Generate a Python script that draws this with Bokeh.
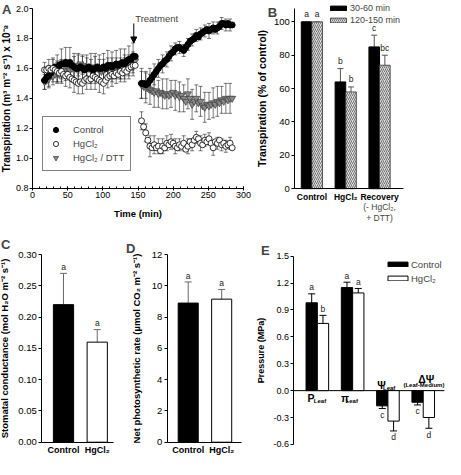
from bokeh.plotting import figure
from bokeh.layouts import column, row
from bokeh.models import (ColumnDataSource, Whisker, TeeHead, Legend, LegendItem,
                          Label, Arrow, NormalHead, FixedTicker, PrintfTickFormatter,
                          SingleIntervalTicker, Range1d)
from bokeh.core.properties import value
from bokeh.embed import file_html
from bokeh.resources import INLINE

FONT = "Liberation Sans"

# ---------------- Panel A data ----------------
time_pre = [17, 20, 23, 26, 29, 32, 35, 38, 41, 44, 47, 50, 53, 56, 59, 62, 65, 68, 71, 74, 77, 80,
            83, 86, 89, 92, 95, 98, 101, 104, 107, 110, 113, 116, 119, 122, 125, 128, 131, 134,
            137, 140, 143, 146]
ctrl_pre = [1.52, 1.54, 1.55, 1.57, 1.59, 1.61, 1.60, 1.62, 1.63, 1.63, 1.64, 1.63, 1.64, 1.62,
            1.61, 1.60, 1.60, 1.61, 1.60, 1.59, 1.60, 1.61, 1.60, 1.59, 1.60, 1.61, 1.60, 1.60,
            1.61, 1.60, 1.62, 1.62, 1.61, 1.62, 1.63, 1.62, 1.63, 1.64, 1.63, 1.65, 1.66, 1.66,
            1.68, 1.68]
ctrl_pre_err = [0.06, 0.07, 0.07, 0.08, 0.08, 0.09, 0.09, 0.10, 0.10, 0.09, 0.10, 0.09, 0.10, 0.10,
                0.09, 0.09, 0.10, 0.10, 0.09, 0.10, 0.09, 0.10, 0.10, 0.09, 0.10, 0.10, 0.09, 0.10,
                0.09, 0.10, 0.10, 0.09, 0.10, 0.10, 0.09, 0.10, 0.10, 0.09, 0.10, 0.10, 0.09, 0.10,
                0.09, 0.08]
hg_pre = [1.59, 1.59, 1.60, 1.59, 1.60, 1.59, 1.58, 1.57, 1.58, 1.56, 1.55, 1.56, 1.54, 1.53,
          1.52, 1.51, 1.50, 1.51, 1.50, 1.52, 1.53, 1.52, 1.53, 1.55, 1.54, 1.53, 1.52, 1.51,
          1.50, 1.52, 1.54, 1.55, 1.56, 1.55, 1.57, 1.56, 1.58, 1.57, 1.59, 1.58, 1.60, 1.61,
          1.62, 1.62]
hg_pre_err = [0.05, 0.05, 0.06, 0.06, 0.06, 0.07, 0.07, 0.07, 0.08, 0.07, 0.07, 0.08, 0.07, 0.08,
              0.08, 0.07, 0.07, 0.08, 0.07, 0.08, 0.07, 0.08, 0.07, 0.07, 0.08, 0.07, 0.08, 0.07,
              0.07, 0.08, 0.07, 0.07, 0.08, 0.07, 0.07, 0.08, 0.07, 0.07, 0.08, 0.07, 0.07, 0.08,
              0.07, 0.07]
dtt_pre = [1.51, 1.52, 1.53, 1.55, 1.55, 1.56, 1.57, 1.56, 1.58, 1.58, 1.59, 1.60, 1.59, 1.60,
           1.61, 1.60, 1.62, 1.63, 1.62, 1.60, 1.61, 1.60, 1.59, 1.60, 1.61, 1.60, 1.59, 1.58,
           1.59, 1.60, 1.60, 1.61, 1.60, 1.61, 1.60, 1.61, 1.60, 1.61, 1.62, 1.61, 1.62, 1.63,
           1.64, 1.65]
dtt_pre_err = [0.05, 0.05, 0.06, 0.06, 0.06, 0.06, 0.07, 0.06, 0.07, 0.06, 0.07, 0.07, 0.06, 0.07,
               0.07, 0.06, 0.07, 0.07, 0.06, 0.07, 0.06, 0.07, 0.07, 0.06, 0.07, 0.06, 0.07, 0.06,
               0.07, 0.06, 0.07, 0.06, 0.07, 0.06, 0.07, 0.06, 0.07, 0.06, 0.07, 0.06, 0.07, 0.06,
               0.07, 0.06]

time_post = [155, 158, 161, 164, 167, 170, 173, 176, 179, 182, 185, 188, 191, 194, 197, 200, 203,
             206, 209, 212, 215, 218, 221, 224, 227, 230, 233, 236, 239, 242, 245, 248, 251, 254,
             257, 260, 263, 266, 269, 272, 275, 278, 281, 284]
ctrl_post = [1.50, 1.50, 1.49, 1.50, 1.52, 1.54, 1.56, 1.58, 1.60, 1.62, 1.63, 1.65, 1.66, 1.68,
             1.70, 1.71, 1.73, 1.74, 1.74, 1.73, 1.72, 1.74, 1.76, 1.78, 1.79, 1.80, 1.82, 1.81,
             1.83, 1.84, 1.85, 1.86, 1.85, 1.86, 1.87, 1.86, 1.87, 1.88, 1.90, 1.90, 1.89, 1.90,
             1.89, 1.89]
ctrl_post_err = [0.10, 0.10, 0.09, 0.09, 0.08, 0.08, 0.07, 0.07, 0.06, 0.06, 0.06, 0.05, 0.05, 0.05,
                 0.05, 0.05, 0.04, 0.05, 0.04, 0.05, 0.04, 0.05, 0.04, 0.05, 0.04, 0.05, 0.04, 0.05,
                 0.04, 0.05, 0.04, 0.04, 0.05, 0.04, 0.04, 0.05, 0.04, 0.04, 0.04, 0.04, 0.04, 0.04,
                 0.04, 0.03]
hg_post = [1.25, 1.21, 1.17, 1.12, 1.08, 1.07, 1.09, 1.07, 1.08, 1.05, 1.08, 1.07, 1.10, 1.09,
           1.11, 1.10, 1.08, 1.07, 1.09, 1.08, 1.10, 1.06, 1.08, 1.11, 1.09, 1.12, 1.14, 1.13,
           1.10, 1.09, 1.12, 1.11, 1.13, 1.10, 1.07, 1.11, 1.10, 1.12, 1.09, 1.10, 1.08, 1.09,
           1.10, 1.07]
hg_post_err = [0.06, 0.06, 0.06, 0.06, 0.07, 0.06, 0.06, 0.06, 0.05, 0.06, 0.05, 0.05, 0.05, 0.05,
               0.05, 0.05, 0.05, 0.05, 0.04, 0.05, 0.05, 0.04, 0.05, 0.05, 0.04, 0.05, 0.04, 0.04,
               0.05, 0.04, 0.04, 0.05, 0.04, 0.04, 0.05, 0.04, 0.04, 0.04, 0.04, 0.04, 0.04, 0.04,
               0.04, 0.04]
dtt_post = [1.49, 1.48, 1.47, 1.47, 1.46, 1.45, 1.44, 1.45, 1.43, 1.44, 1.43, 1.42, 1.43, 1.42,
            1.43, 1.44, 1.42, 1.43, 1.41, 1.42, 1.40, 1.38, 1.43, 1.40, 1.36, 1.38, 1.40, 1.37,
            1.38, 1.35, 1.34, 1.36, 1.35, 1.36, 1.37, 1.36, 1.38, 1.37, 1.39, 1.38, 1.40, 1.39,
            1.40, 1.40]
dtt_post_err = [0.09, 0.10, 0.10, 0.10, 0.10, 0.09, 0.10, 0.10, 0.09, 0.10, 0.10, 0.09, 0.10, 0.10,
                0.09, 0.10, 0.10, 0.09, 0.10, 0.10, 0.09, 0.10, 0.10, 0.09, 0.10, 0.10, 0.09, 0.10,
                0.10, 0.09, 0.10, 0.10, 0.09, 0.10, 0.10, 0.09, 0.10, 0.10, 0.09, 0.10, 0.10, 0.09,
                0.10, 0.10]
treatment_time = 144

# ---------------- Panel B data ----------------
b_groups = ["Control", "HgCl\u2082", "Recovery"]
b_recovery_note = ["(- HgCl\u2082,", "+ DTT)"]
b_early = [100, 64, 85]
b_early_err = [0, 8, 7]
b_early_sig = ["a", "b", "c"]
b_late = [100, 58, 74]
b_late_err = [0, 3, 6]
b_late_sig = ["a", "b", "bc"]

# ---------------- Panel C / D data ----------------
cd_groups = ["Control", "HgCl\u2082"]
c_vals = [0.22, 0.16]
c_err = [0.05, 0.02]
c_sig = ["a", "a"]
d_vals = [8.9, 9.15]
d_err = [1.35, 0.62]
d_sig = ["a", "a"]

# ---------------- Panel E data ----------------
e_symbols = ["P", "\u03c0", "\u03a8", "\u0394\u03a8"]
e_subs = ["Leaf", "Leaf", "Leaf", "(Leaf-Medium)"]
e_ctrl = [0.98, 1.15, -0.17, -0.13]
e_ctrl_err = [0.10, 0.06, 0.03, 0.03]
e_ctrl_sig = ["a", "a", "c", "c"]
e_hg = [0.75, 1.09, -0.34, -0.30]
e_hg_err = [0.09, 0.05, 0.11, 0.12]
e_hg_sig = ["b", "a", "d", "d"]


def panel(W, H, xwin, ywin, box, tick_size="9.5px", label_size="10.5px"):
    """Figure whose frame fills the canvas; axes are pinned (fixed_location) so the
    axis window xwin/ywin lands on the pixel box (left, right, top, bottom)."""
    (x0, x1), (y0, y1) = xwin, ywin
    L, R, T, B = box
    sx = (R - L) / (x1 - x0)
    sy = (B - T) / (y1 - y0)
    xs, xe = x0 - L / sx, x1 + (W - R) / sx
    ys, ye = y0 - (H - B) / sy, y1 + T / sy
    p = figure(width=W, height=H, x_range=Range1d(xs, xe), y_range=Range1d(ys, ye),
               output_backend="svg", toolbar_location=None, title=None,
               min_border_left=0, min_border_right=0, min_border_top=0, min_border_bottom=0)
    p.outline_line_color = None
    p.grid.visible = False
    p.background_fill_color = "white"
    p.border_fill_color = "white"
    for ax in p.axis:
        ax.axis_line_color = "black"
        ax.axis_line_width = 1
        ax.major_tick_line_color = "black"
        ax.major_tick_in = 0
        ax.major_tick_out = 3
        ax.minor_tick_line_color = None
        ax.major_label_text_font = FONT
        ax.major_label_text_font_size = tick_size
        ax.major_label_text_color = "black"
        ax.major_label_standoff = 2
        ax.axis_label_text_font = FONT
        ax.axis_label_text_font_style = "bold"
        ax.axis_label_text_font_size = label_size
        ax.axis_label_text_color = "black"
        ax.axis_label_standoff = 3
    p.xaxis.fixed_location = y0
    p.xaxis.bounds = (x0, x1)
    p.yaxis.fixed_location = x0
    p.yaxis.bounds = (y0, y1)

    def conv(cx, cy):
        return xs + cx / sx, ye - cy / sy
    return p, conv


def letter(p, conv, text, cx, cy):
    x, y = conv(cx, cy)
    p.add_layout(Label(x=x, y=y, text=text, text_font=FONT, text_font_style="bold",
                       text_font_size="13px", text_baseline="top", text_align="left"))


def bar_xaxis(p, labels, size="9px"):
    ax = p.xaxis[0]
    ax.ticker = FixedTicker(ticks=list(range(1, len(labels) + 1)))
    ax.major_label_overrides = {i + 1: s for i, s in enumerate(labels)}
    ax.major_tick_out = 0
    ax.major_label_text_font_style = "bold"
    ax.major_label_text_font_size = size
    ax.major_label_standoff = 3


# =============== Panel A ===============
pA, cA = panel(256, 225, (0, 300), (0.8, 2.0), (32.1, 242.9, 8.0, 187.7), tick_size="9px")
pA.xaxis.ticker = SingleIntervalTicker(interval=50, num_minor_ticks=5)
pA.xaxis.minor_tick_line_color = "black"
pA.xaxis.minor_tick_in = 2
pA.xaxis.minor_tick_out = 0
pA.xaxis.major_tick_in = 2
pA.xaxis.major_tick_out = 2
pA.xaxis.axis_label_standoff = 6
pA.yaxis.ticker = FixedTicker(ticks=[0.8, 1.0, 1.2, 1.4, 1.6, 1.8, 2.0])
pA.yaxis.formatter = PrintfTickFormatter(format="%.1f")
pA.yaxis.major_label_standoff = 1
pA.xaxis.axis_label = "Time (min)"
pA.xaxis.axis_label_text_font_size = "9.5px"
pA.yaxis.axis_label = "Transpiration (m\u00b3 m\u207b\u00b2 s\u207b\u00b9) x 10\u207b\u2078"
pA.yaxis.axis_label_text_font_size = "10px"
pA.yaxis.axis_label_standoff = 1

series = [
    (time_pre + time_post, ctrl_pre + ctrl_post, ctrl_pre_err + ctrl_post_err),
    (time_pre + time_post, hg_pre + hg_post, hg_pre_err + hg_post_err),
    (time_pre + time_post, dtt_pre + dtt_post, dtt_pre_err + dtt_post_err),
]
for t, v, e in series:
    src = ColumnDataSource(dict(x=t[::2], up=[a + b for a, b in zip(v[::2], e[::2])],
                                lo=[a - b for a, b in zip(v[::2], e[::2])]))
    pA.add_layout(Whisker(source=src, base="x", upper="up", lower="lo", line_color="#222222",
                          line_width=0.6,
                          upper_head=TeeHead(size=4, line_color="#222222", line_width=0.6),
                          lower_head=TeeHead(size=4, line_color="#222222", line_width=0.6)))

r_dtt = pA.scatter(series[2][0], series[2][1], marker="inverted_triangle", size=7,
                   fill_color="#8a8a8a", line_color="#3a3a3a", line_width=0.7)
r_ctrl = pA.scatter(series[0][0], series[0][1], marker="circle", size=6,
                    fill_color="black", line_color="black")
r_hg = pA.scatter(series[1][0], series[1][1], marker="circle", size=6,
                  fill_color="white", line_color="black", line_width=0.8)

legA = Legend(items=[LegendItem(label="Control", renderers=[r_ctrl]),
                     LegendItem(label="HgCl\u2082", renderers=[r_hg]),
                     LegendItem(label="HgCl\u2082 / DTT", renderers=[r_dtt])],
              location=(42, 54), padding=6, spacing=1, margin=0,
              glyph_width=13, glyph_height=13, label_height=12, label_standoff=11,
              label_text_font=FONT, label_text_font_size="9.5px",
              border_line_color="black", border_line_width=1, background_fill_color="white")
pA.add_layout(legA)

pA.add_layout(Arrow(end=NormalHead(size=6, fill_color="black", line_color="black"),
                    x_start=treatment_time, y_start=1.90, x_end=treatment_time, y_end=1.77,
                    line_color="black", line_width=1))
pA.add_layout(Label(x=treatment_time + 2, y=1.935, text="Treatment", text_font=FONT,
                    text_font_size="9.5px", text_baseline="middle"))
letter(pA, cA, "A", 1.5, 1.5)

# =============== Panel B ===============
pB, cB = panel(189, 225, (0.494, 3.72), (0, 108), (38.3, 147.4, 8.0, 188.2))
bar_xaxis(pB, b_groups, "8.5px")
pB.yaxis.ticker = FixedTicker(ticks=[0, 20, 40, 60, 80, 100])
pB.yaxis.axis_label = "Transpiration (% of control)"
pB.yaxis.axis_label_standoff = 3

bw = 0.314
xe = [i + 1 - bw / 2 for i in range(3)]
xl = [i + 1 + bw / 2 for i in range(3)]
rb1 = pB.vbar(x=xe, top=b_early, width=bw, fill_color="black", line_color="black")
rb2 = pB.vbar(x=xl, top=b_late, width=bw, fill_color="#dcdcdc", line_color="#333333",
              line_width=0.8, hatch_pattern="/", hatch_color="#555555", hatch_scale=4,
              hatch_weight=0.8)
for xs_, vs, es in [(xe, b_early, b_early_err), (xl, b_late, b_late_err)]:
    src = ColumnDataSource(dict(x=xs_, up=[a + b for a, b in zip(vs, es)], lo=vs))
    pB.add_layout(Whisker(source=src, base="x", upper="up", lower="lo", line_color="#555555",
                          line_width=1, upper_head=TeeHead(size=6, line_color="#555555",
                                                           line_width=1), lower_head=None))
pB.text(x=xe + xl,
        y=[a + b + 1.5 for a, b in zip(b_early + b_late, b_early_err + b_late_err)],
        text=b_early_sig + b_late_sig, text_font=value(FONT), text_font_size="8.5px",
        text_align="center", text_baseline="bottom", text_color="#222222")
legB = Legend(items=[LegendItem(label="30-60 min", renderers=[rb1]),
                     LegendItem(label="120-150 min", renderers=[rb2])],
              location=(72, 199), padding=0, spacing=0, margin=0,
              glyph_width=20, glyph_height=6, label_height=12, label_standoff=2,
              label_text_font=FONT, label_text_font_size="9px",
              border_line_color=None, background_fill_alpha=0)
pB.add_layout(legB)
for txt, cy in zip(b_recovery_note, [206.5, 217.5]):
    pB.add_layout(Label(x=3, y=cB(0, cy)[1], text=txt, text_font=FONT,
                        text_font_size="8.5px", text_align="center", text_baseline="middle"))
letter(pB, cB, "B", 11.3, 4.0)

# =============== Panel C ===============
pC, cC = panel(121, 234, (0.354, 2.47), (0, 0.30), (41.2, 112.6, 29.1, 216.7),
               label_size="9.5px")
bar_xaxis(pC, cd_groups, "9px")
pC.yaxis.ticker = FixedTicker(ticks=[0, 0.05, 0.10, 0.15, 0.20, 0.25, 0.30])
pC.yaxis.formatter = PrintfTickFormatter(format="%.2f")
pC.yaxis.axis_label = "Stomatal conductance (mol H\u2082O m\u207b\u00b2 s\u207b\u00b9)"
pC.yaxis.axis_label_standoff = 5
pC.vbar(x=[1, 2], top=c_vals, width=0.6, fill_color=["black", "white"], line_color="black")
srcC = ColumnDataSource(dict(x=[1, 2], up=[a + b for a, b in zip(c_vals, c_err)], lo=c_vals))
pC.add_layout(Whisker(source=srcC, base="x", upper="up", lower="lo", line_color="#6a6a6a",
                      line_width=1, upper_head=TeeHead(size=7, line_color="#6a6a6a", line_width=1),
                      lower_head=None))
pC.text(x=[1, 2], y=[a + b + 0.002 for a, b in zip(c_vals, c_err)], text=c_sig,
        text_font=value(FONT), text_font_size="8.5px", text_align="center",
        text_baseline="bottom", text_color="#222222")
letter(pC, cC, "C", 0.5, 11.0)

# =============== Panel D ===============
pD, cD = panel(135, 234, (0.372, 2.6), (0, 12), (45.7, 120.25, 29.1, 216.7),
               label_size="9.5px")
bar_xaxis(pD, cd_groups, "9px")
pD.yaxis.ticker = FixedTicker(ticks=[0, 2, 4, 6, 8, 10, 12])
pD.yaxis.axis_label = "Net photosynthetic rate (\u00b5mol CO\u2082 m\u207b\u00b2 s\u207b\u00b9)"
pD.yaxis.axis_label_standoff = 7
pD.vbar(x=[1, 2], top=d_vals, width=0.6, fill_color=["black", "white"], line_color="black")
srcD = ColumnDataSource(dict(x=[1, 2], up=[a + b for a, b in zip(d_vals, d_err)], lo=d_vals))
pD.add_layout(Whisker(source=srcD, base="x", upper="up", lower="lo", line_color="#6a6a6a",
                      line_width=1, upper_head=TeeHead(size=7, line_color="#6a6a6a", line_width=1),
                      lower_head=None))
pD.text(x=[1, 2], y=[a + b + 0.08 for a, b in zip(d_vals, d_err)], text=d_sig,
        text_font=value(FONT), text_font_size="8.5px", text_align="center",
        text_baseline="bottom", text_color="#222222")
letter(pD, cD, "D", 4.5, 15.5)

# =============== Panel E ===============
e_xwin = (0.336, 4.6)
pE, cE = panel(189, 234, e_xwin, (-0.6, 1.5), (37.4, 187.9, 30.7, 218.9),
               tick_size="9px", label_size="9px")
pE.xaxis.visible = False
pE.yaxis.ticker = FixedTicker(ticks=[-0.6, -0.3, 0.0, 0.3, 0.6, 0.9, 1.2, 1.5])
pE.yaxis.formatter = PrintfTickFormatter(format="%.1f")
pE.yaxis.axis_label = "Pressure (MPa)"
pE.yaxis.axis_label_standoff = 4
pE.segment(x0=[e_xwin[0]], y0=[0], x1=[e_xwin[1]], y1=[0], line_color="black", line_width=1)
ebw = 0.32
xc = [i + 1 - ebw / 2 for i in range(4)]
xh = [i + 1 + ebw / 2 for i in range(4)]
re1 = pE.vbar(x=xc, top=e_ctrl, bottom=0, width=ebw, fill_color="black", line_color="black")
re2 = pE.vbar(x=xh, top=e_hg, bottom=0, width=ebw, fill_color="white", line_color="black")
for xs_, vs, es in [(xc, e_ctrl, e_ctrl_err), (xh, e_hg, e_hg_err)]:
    src = ColumnDataSource(dict(x=xs_, up=[a + b for a, b in zip(vs, es)],
                                lo=[a - b for a, b in zip(vs, es)]))
    pE.add_layout(Whisker(source=src, base="x", upper="up", lower="lo", line_color="black",
                          line_width=1,
                          upper_head=TeeHead(size=7, line_color="black", line_width=1),
                          lower_head=TeeHead(size=7, line_color="black", line_width=1)))
sig_x, sig_y, sig_t, sig_b = [], [], [], []
for xs_, vs, es, ss in [(xc, e_ctrl, e_ctrl_err, e_ctrl_sig), (xh, e_hg, e_hg_err, e_hg_sig)]:
    for xx, vv, ee, s in zip(xs_, vs, es, ss):
        sig_x.append(xx)
        sig_t.append(s)
        if vv >= 0:
            sig_y.append(vv + ee + 0.015)
            sig_b.append("bottom")
        else:
            sig_y.append(vv - ee - 0.015)
            sig_b.append("top")
srcS = ColumnDataSource(dict(x=sig_x, y=sig_y, t=sig_t, b=sig_b))
pE.text(x="x", y="y", text="t", text_baseline="b", source=srcS, text_font=value(FONT),
        text_font_size="8.5px", text_align="center", text_color="#222222")
# group labels (symbol + subscript)
sym_x = [0.72, 1.67, 2.70, 3.86]
sym_y = [-0.085, -0.085, 0.068, 0.135]
sub_x = [0.90, 1.80, 2.86, 3.44]
sub_y = [-0.118, -0.118, 0.030, 0.066]
pE.text(x=sym_x, y=sym_y, text=e_symbols, text_font=value(FONT), text_font_style="bold",
        text_font_size="10.5px", text_align="left", text_baseline="middle")
pE.text(x=sub_x, y=sub_y, text=e_subs, text_font=value(FONT), text_font_style="bold",
        text_font_size="6px", text_align="left", text_baseline="middle")
legE = Legend(items=[LegendItem(label="Control", renderers=[re1]),
                     LegendItem(label="HgCl\u2082", renderers=[re2])],
              location=(129, 175), padding=0, spacing=2, margin=0,
              glyph_width=25, glyph_height=6, label_height=12, label_standoff=1,
              label_text_font=FONT, label_text_font_size="9.5px",
              border_line_color=None, background_fill_alpha=0)
pE.add_layout(legE)
letter(pE, cE, "E", 4.6, 17.5)

layout = column(row(pA, pB, spacing=0), row(pC, pD, pE, spacing=0), spacing=0)
open("out.html", "w").write(file_html(layout, INLINE))
